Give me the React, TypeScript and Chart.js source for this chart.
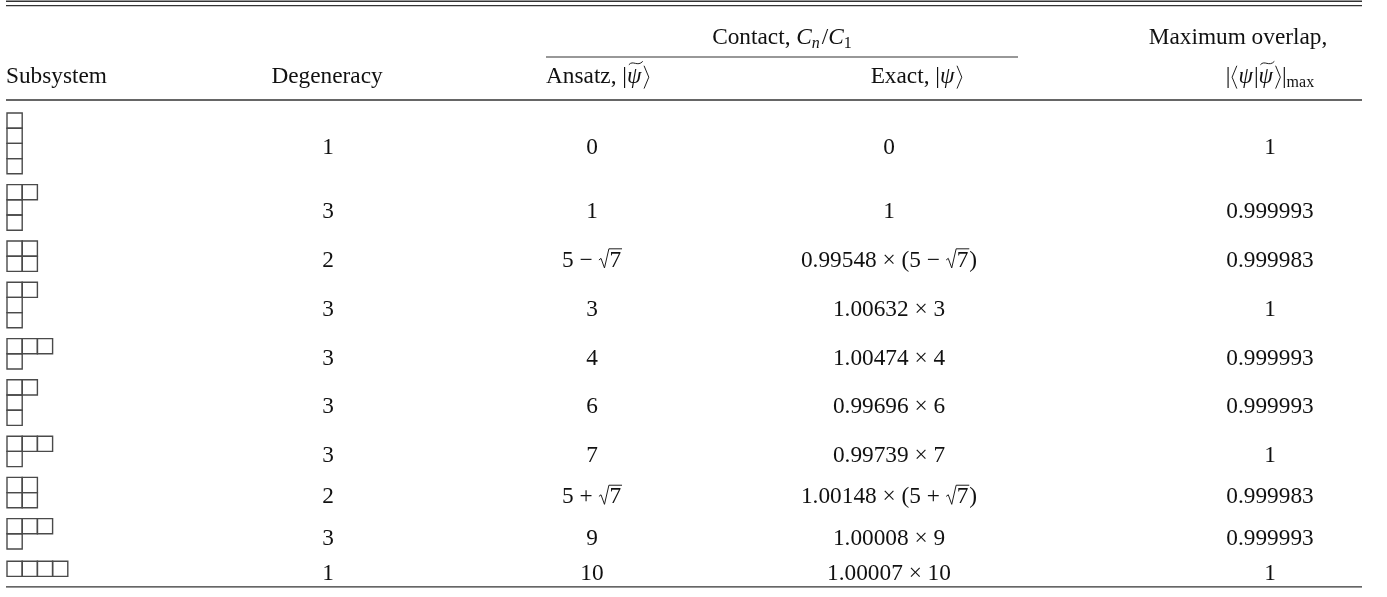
import React, { useEffect, useRef } from "react";
import { Chart, registerables } from "chart.js";

Chart.register(...registerables);

// Young diagram of each subsystem, given as row lengths from top to bottom
const subsystems: number[][] = [
  [1, 1, 1, 1],
  [2, 1, 1],
  [2, 2],
  [2, 1, 1],
  [3, 1],
  [2, 1, 1],
  [3, 1],
  [2, 2],
  [3, 1],
  [4],
];
const degeneracy: number[] = [1, 3, 2, 3, 3, 3, 3, 2, 3, 1];
const ansatzContact: string[] = ["0", "1", "5 − √7", "3", "4", "6", "7", "5 + √7", "9", "10"];
// exact contact = ratio × ansatz contact (null: identical to the ansatz value)
const exactRatio: (number | null)[] = [null, null, 0.99548, 1.00632, 1.00474, 0.99696, 0.99739, 1.00148, 1.00008, 1.00007];
const maxOverlap: string[] = ["1", "0.999993", "0.999983", "1", "0.999993", "0.999993", "1", "0.999983", "0.999993", "1"];

// page geometry (scale units = CSS pixels)
const W = 1387;
const H = 597;
const FAMILY = '"Liberation Serif", "DejaVu Serif", serif';
const FS = 23.3;
const SUB = 16;
const BOX = 15.2;
const ROW_GAP = 10.8;
const FIRST_TOP = 113;
const MIN_BLOCK = 18;
const DIAG_LEFT = 7;
const RULE_LEFT = 6;
const RULE_RIGHT = 1362;

const COL_DEG = 328;
const COL_ANS = 592;
const COL_EXA = 889;
const COL_OVL = 1270;

type Piece = {
  s?: string;
  it?: boolean;
  sz?: number;
  dy?: number;
  pad?: number;
  kind?: "sqrt" | "lang" | "rang" | "tilde";
};

// header labels
const headContact: Piece[] = [
  { s: "Contact, " },
  { s: "C", it: true },
  { s: "n", it: true, sz: SUB, dy: 4, pad: 2 },
  { s: "/" },
  { s: "C", it: true },
  { s: "1", sz: SUB, dy: 4 },
];
const headOverlap1: Piece[] = [{ s: "Maximum overlap," }];
const headSubsystem: Piece[] = [{ s: "Subsystem" }];
const headDegeneracy: Piece[] = [{ s: "Degeneracy" }];
const headAnsatz: Piece[] = [{ s: "Ansatz, " }, { s: "|" }, { kind: "tilde", s: "ψ", it: true, pad: 1 }, { kind: "rang" }];
const headExact: Piece[] = [{ s: "Exact, " }, { s: "|" }, { s: "ψ", it: true, pad: 1 }, { kind: "rang" }];
const headOverlap2: Piece[] = [
  { s: "|" },
  { kind: "lang" },
  { s: "ψ", it: true, pad: 1 },
  { s: "|" },
  { kind: "tilde", s: "ψ", it: true, pad: 1 },
  { kind: "rang" },
  { s: "|" },
  { s: "max", sz: SUB, dy: 4 },
];

function parseMath(str: string): Piece[] {
  return str
    .split(/(√\d+)/)
    .filter((t) => t.length > 0)
    .map((t) => (t.startsWith("√") ? { kind: "sqrt" as const, s: t.slice(1) } : { s: t }));
}

function exactLabel(i: number): string {
  const r = exactRatio[i];
  const a = ansatzContact[i];
  if (r === null) return a;
  return `${r.toFixed(5)} × ${a.includes("√") ? `(${a})` : a}`;
}

function fontOf(p: Piece): string {
  return `${p.it ? "italic " : ""}${p.sz ?? FS}px ${FAMILY}`;
}

function pieceWidth(ctx: CanvasRenderingContext2D, p: Piece): number {
  const sz = p.sz ?? FS;
  ctx.font = fontOf(p);
  if (p.kind === "sqrt") return sz * 0.47 + ctx.measureText(p.s ?? "").width + 1;
  if (p.kind === "lang" || p.kind === "rang") return sz * 0.34;
  return ctx.measureText(p.s ?? "").width + (p.pad ?? 0);
}

function drawPiece(ctx: CanvasRenderingContext2D, p: Piece, x: number, base: number, w: number) {
  const sz = p.sz ?? FS;
  ctx.font = fontOf(p);
  ctx.lineWidth = 0.95;
  if (p.kind === "sqrt") {
    const top = base - sz * 0.78;
    const rx = x + sz * 0.45;
    ctx.beginPath();
    ctx.moveTo(x + 0.5, base - sz * 0.3);
    ctx.lineTo(x + 2.6, base - sz * 0.37);
    ctx.lineTo(x + sz * 0.26, base + sz * 0.04);
    ctx.lineTo(rx, top);
    ctx.lineTo(x + w, top);
    ctx.stroke();
    ctx.fillText(p.s ?? "", rx + 0.5, base);
    return;
  }
  if (p.kind === "lang" || p.kind === "rang") {
    const top = base - sz * 0.74;
    const bot = base + sz * 0.24;
    const mid = (top + bot) / 2;
    const a = p.kind === "lang" ? x + w * 0.8 : x + w * 0.2;
    const b = p.kind === "lang" ? x + w * 0.2 : x + w * 0.8;
    ctx.beginPath();
    ctx.moveTo(a, top);
    ctx.lineTo(b, mid);
    ctx.lineTo(a, bot);
    ctx.stroke();
    return;
  }
  ctx.fillText(p.s ?? "", x, base + (p.dy ?? 0));
  if (p.kind === "tilde") {
    const x0 = x + w * 0.12;
    const x1 = x + w * 1.02;
    const y = base - sz * 0.86;
    const d = x1 - x0;
    ctx.beginPath();
    ctx.moveTo(x0, y + 1.8);
    ctx.bezierCurveTo(x0 + d * 0.3, y - 3.2, x0 + d * 0.62, y + 4.2, x1, y - 1.6);
    ctx.stroke();
  }
}

function drawPieces(ctx: CanvasRenderingContext2D, pieces: Piece[], x: number, base: number, align: "left" | "center") {
  const widths = pieces.map((p) => pieceWidth(ctx, p));
  const total = widths.reduce((s, v) => s + v, 0);
  let cx = align === "center" ? x - total / 2 : x;
  pieces.forEach((p, i) => {
    drawPiece(ctx, p, cx, base, widths[i]);
    cx += widths[i];
  });
}

// vertical slots of the body rows, sized by the height of each diagram
const rowSlots = (() => {
  let top = FIRST_TOP;
  return subsystems.map((shape) => {
    const h = Math.max(shape.length * BOX, MIN_BLOCK);
    const slot = { top, h, mid: top + h / 2 };
    top += h + ROW_GAP;
    return slot;
  });
})();
const lastSlot = rowSlots[rowSlots.length - 1];
const BOTTOM_RULE = lastSlot.top + lastSlot.h + 9;

// one point per diagram cell, drawn as a square marker
const cellPoints = subsystems.flatMap((shape, i) => {
  const dTop = rowSlots[i].mid - (shape.length * BOX) / 2;
  return shape.flatMap((len, r) =>
    Array.from({ length: len }, (_, c) => ({ x: DIAG_LEFT + (c + 0.5) * BOX, y: dTop + (r + 0.5) * BOX }))
  );
});

const tablePlugin = {
  id: "tableText",
  afterDatasetsDraw(chart: Chart) {
    const ctx = chart.ctx;
    const xs = chart.scales.x;
    const ys = chart.scales.y;
    const px = (v: number) => xs.getPixelForValue(v);
    const py = (v: number) => ys.getPixelForValue(v);
    ctx.save();
    ctx.fillStyle = "#111";
    ctx.strokeStyle = "#111";
    ctx.textBaseline = "alphabetic";
    ctx.textAlign = "left";

    // rules
    const rule = (x0: number, x1: number, y: number, lw: number) => {
      ctx.save();
      ctx.strokeStyle = "#333";
      ctx.lineWidth = lw;
      ctx.beginPath();
      ctx.moveTo(px(x0), py(y));
      ctx.lineTo(px(x1), py(y));
      ctx.stroke();
      ctx.restore();
    };
    rule(RULE_LEFT, RULE_RIGHT, 1.2, 1.4);
    rule(RULE_LEFT, RULE_RIGHT, 5.6, 1.4);
    rule(546, 1018, 57, 1.2);
    rule(RULE_LEFT, RULE_RIGHT, 100, 1.3);
    rule(RULE_LEFT, RULE_RIGHT, BOTTOM_RULE, 1.3);

    // header
    const baseA = 44;
    const baseB = 83;
    drawPieces(ctx, headContact, px(782), py(baseA), "center");
    drawPieces(ctx, headOverlap1, px(1238), py(baseA), "center");
    drawPieces(ctx, headSubsystem, px(6), py(baseB), "left");
    drawPieces(ctx, headDegeneracy, px(327), py(baseB), "center");
    drawPieces(ctx, headAnsatz, px(546), py(baseB), "left");
    drawPieces(ctx, headExact, px(917), py(baseB), "center");
    drawPieces(ctx, headOverlap2, px(COL_OVL), py(baseB), "center");

    // body
    rowSlots.forEach((slot, i) => {
      const base = py(slot.mid + 10.8);
      drawPieces(ctx, [{ s: String(degeneracy[i]) }], px(COL_DEG), base, "center");
      drawPieces(ctx, parseMath(ansatzContact[i]), px(COL_ANS), base, "center");
      drawPieces(ctx, parseMath(exactLabel(i)), px(COL_EXA), base, "center");
      drawPieces(ctx, [{ s: maxOverlap[i] }], px(COL_OVL), base, "center");
    });
    ctx.restore();
  },
};

export default function App() {
  const canvasRef = useRef<HTMLCanvasElement | null>(null);

  useEffect(() => {
    const canvas = canvasRef.current;
    if (!canvas) return;
    const chart = new Chart(canvas, {
      type: "scatter",
      data: {
        datasets: [
          {
            data: cellPoints,
            pointStyle: "rect",
            pointRadius: BOX / Math.SQRT2,
            pointHoverRadius: BOX / Math.SQRT2,
            pointBorderWidth: 1.4,
            pointBorderColor: "#4a4a4a",
            pointBackgroundColor: "rgba(0,0,0,0)",
            clip: false,
          } as any,
        ],
      },
      options: {
        animation: false,
        responsive: false,
        devicePixelRatio: 1,
        events: [],
        layout: { padding: 0, autoPadding: false },
        scales: {
          x: { type: "linear", min: 0, max: W, display: false },
          y: { type: "linear", min: 0, max: H, reverse: true, display: false },
        },
        plugins: { legend: { display: false }, tooltip: { enabled: false } },
      },
      plugins: [tablePlugin],
    });
    const fonts = (document as any).fonts;
    if (fonts && fonts.load) {
      Promise.all([fonts.load(`${FS}px "Liberation Serif"`), fonts.load(`italic ${FS}px "Liberation Serif"`)])
        .then(() => chart.draw())
        .catch(() => undefined);
    }
    return () => chart.destroy();
  }, []);

  return (
    <div style={{ position: "fixed", left: 0, top: 0, width: W, height: H, background: "#fff" }}>
      <canvas ref={canvasRef} width={W} height={H} style={{ display: "block", width: W, height: H }} />
    </div>
  );
}
